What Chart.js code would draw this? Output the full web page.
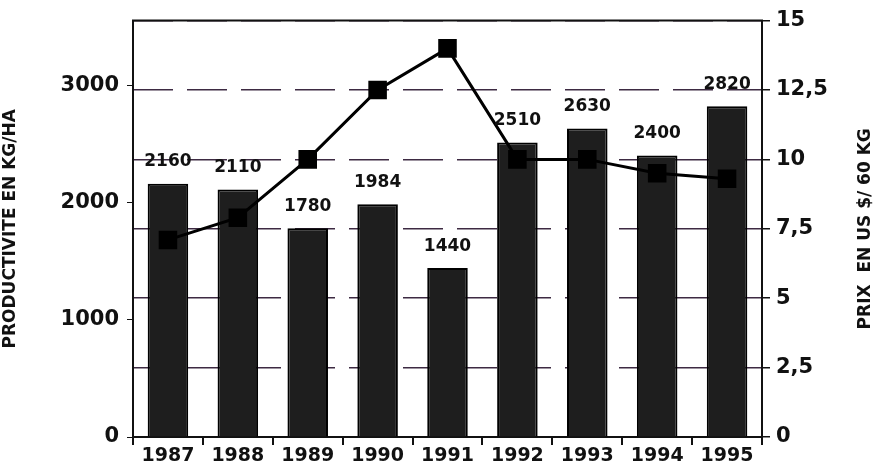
<!DOCTYPE html>
<html>
<head>
<meta charset="utf-8">
<script src="https://cdn.jsdelivr.net/npm/chart.js@4"></script>
<style>
  html, body { margin: 0; padding: 0; background: #fff; }
  #wrap { width: 878px; height: 470px; }
</style>
</head>
<body>
<div id="wrap"><canvas id="chart" width="878" height="470"></canvas></div>
<script>
const years = ['1987', '1988', '1989', '1990', '1991', '1992', '1993', '1994', '1995'];
const productivite = [2160, 2110, 1780, 1984, 1440, 2510, 2630, 2400, 2820];
const prix = [7.1, 7.9, 10, 12.5, 14, 10, 10, 9.5, 9.3];
const leftTicks = [0, 1000, 2000, 3000];

const FONT = "'DejaVu Sans', sans-serif";

// value labels above the bars
const barLabels = {
    id: 'barLabels',
    afterDatasetsDraw(chart) {
        const ctx = chart.ctx;
        const meta = chart.getDatasetMeta(0);
        ctx.save();
        ctx.font = 'bold 17px ' + FONT;
        ctx.fillStyle = '#111';
        ctx.textAlign = 'center';
        ctx.textBaseline = 'middle';
        meta.data.forEach((bar, i) => {
            ctx.fillText(String(productivite[i]), bar.x, bar.y - 22);
        });
        ctx.restore();
    }
};

// right title reads bottom to top, plus solid frame
const extras = {
    id: 'extras',
    afterDraw(chart) {
        const ctx = chart.ctx;
        const a = chart.chartArea;
        ctx.save();
        ctx.strokeStyle = '#111';
        ctx.lineWidth = 2;
        ctx.beginPath();
        ctx.moveTo(a.left, a.bottom);
        ctx.lineTo(a.left, a.top);
        ctx.lineTo(a.right, a.top);
        ctx.lineTo(a.right, a.bottom);
        ctx.stroke();
        ctx.translate(866, (a.top + a.bottom) / 2);
        ctx.rotate(-Math.PI / 2);
        ctx.font = 'bold 17px ' + FONT;
        ctx.fillStyle = '#111';
        ctx.textAlign = 'center';
        ctx.textBaseline = 'middle';
        ctx.fillText('PRIX  EN US $/ 60 KG', 0, 0);
        ctx.restore();
    }
};

new Chart(document.getElementById('chart'), {
    type: 'bar',
    data: {
        labels: years,
        datasets: [{
            type: 'bar',
            data: productivite,
            yAxisID: 'y',
            backgroundColor: '#1e1e1e',
            borderColor: '#000',
            borderWidth: 2,
            barPercentage: 0.58,
            categoryPercentage: 1,
            order: 2
        }, {
            type: 'line',
            data: prix,
            yAxisID: 'y1',
            borderColor: '#000',
            borderWidth: 3,
            pointStyle: 'rect',
            pointRadius: 11,
            pointBackgroundColor: '#000',
            pointBorderColor: '#000',
            tension: 0,
            order: 1
        }]
    },
    options: {
        responsive: false,
        animation: false,
        events: [],
        layout: { padding: { top: 17, left: 0, right: 0, bottom: 0 } },
        plugins: { legend: { display: false }, tooltip: { enabled: false } },
        scales: {
            x: {
                offset: true,
                grid: { offset: true, drawOnChartArea: false, color: '#111', lineWidth: 2, tickLength: 8 },
                border: { color: '#111', width: 2 },
                ticks: { color: '#111', font: { family: FONT, size: 19, weight: 'bold' }, padding: 0, maxRotation: 0 },
                afterFit(s) { s.height = 33; }
            },
            y: {
                position: 'left',
                min: 0,
                max: 3550,
                afterBuildTicks(s) { s.ticks = leftTicks.map(v => ({ value: v })); },
                grid: { drawOnChartArea: false, color: '#111', tickLength: 6 },
                border: { color: '#111', width: 2 },
                ticks: {
                    color: '#111',
                    font: { family: FONT, size: 21, weight: 'bold' },
                    padding: 8,
                    callback: v => String(v)
                },
                title: {
                    display: true,
                    text: 'PRODUCTIVITE EN KG/HA',
                    color: '#111',
                    font: { family: FONT, size: 17, weight: 'bold' },
                    padding: { top: 0, bottom: 8 }
                },
                afterFit(s) { s.width = 133; }
            },
            y1: {
                position: 'right',
                min: 0,
                max: 15,
                ticks: {
                    stepSize: 2.5,
                    color: '#111',
                    font: { family: FONT, size: 21, weight: 'bold' },
                    padding: 6,
                    callback: v => String(v).replace('.', ',')
                },
                grid: {
                    color: '#3d2a42',
                    lineWidth: 1.5,
                    tickLength: 8,
                    tickColor: '#111',
                    tickBorderDash: []
                },
                border: { color: '#111', width: 2, dash: [40, 14] },
                afterFit(s) { s.width = 116; }
            }
        }
    },
    plugins: [barLabels, extras]
});
</script>
</body>
</html>
